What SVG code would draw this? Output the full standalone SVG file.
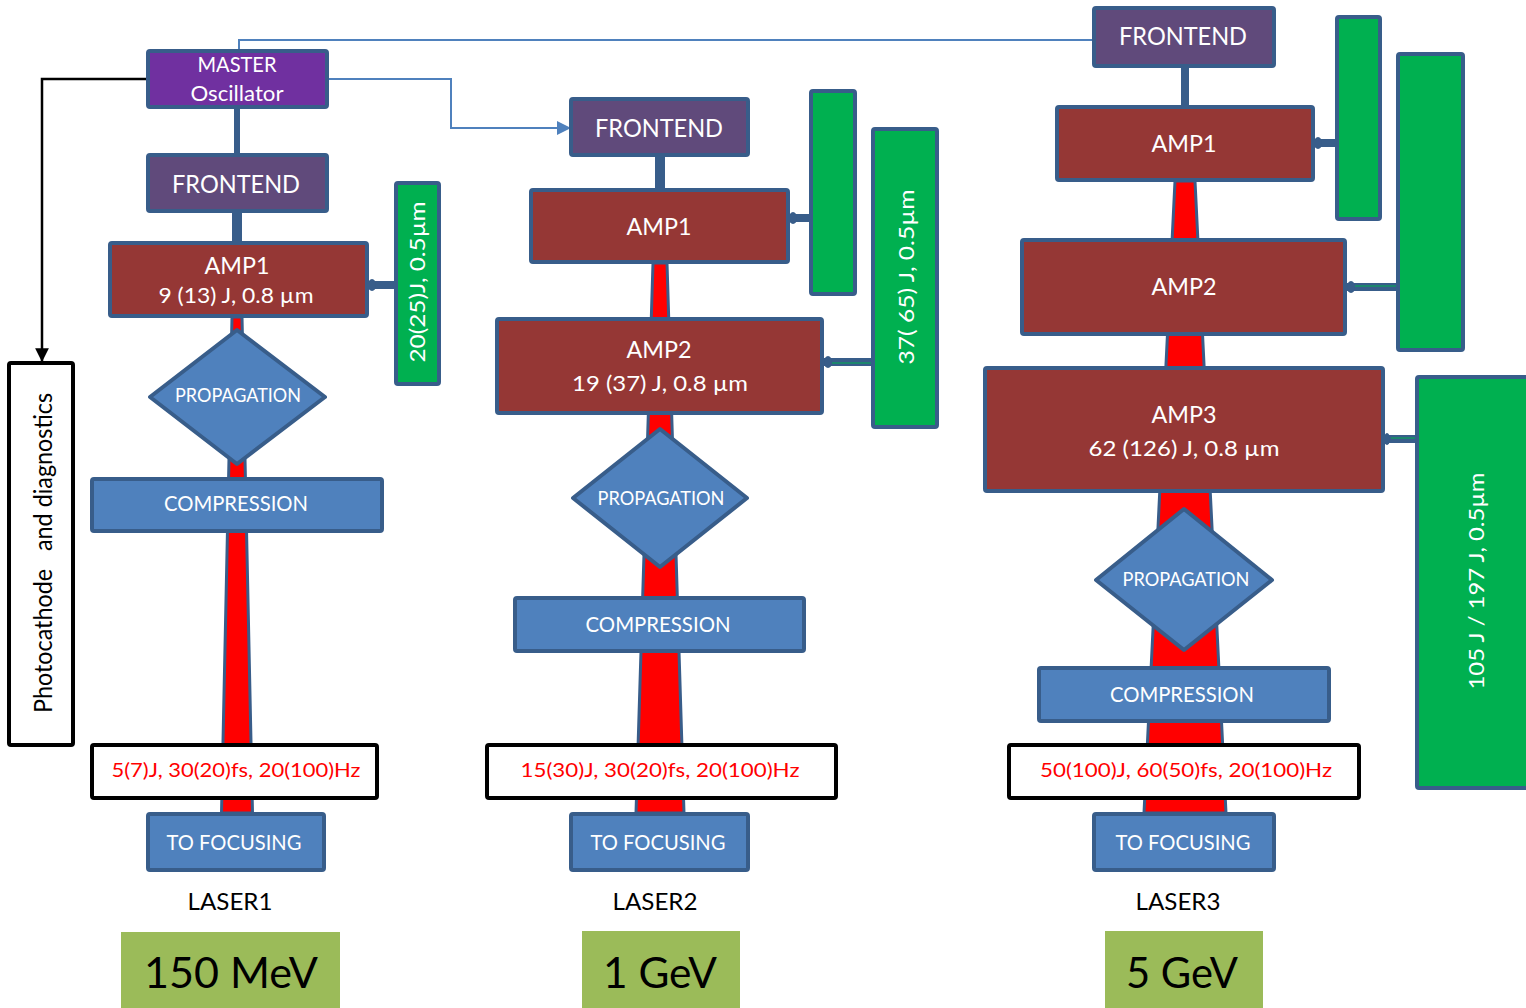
<svg xmlns="http://www.w3.org/2000/svg" width="1526" height="1008" viewBox="0 0 1526 1008">
<style>
text{font-family:Lato,"Liberation Sans",sans-serif;text-anchor:middle}
.box{stroke:#385D8A;stroke-width:4}
.master{fill:#7030A0}
.front{fill:#604A7B}
.amp{fill:#953735}
.green{fill:#00B050}
.blue{fill:#4F81BD}
.out{fill:#fff;stroke:#000;stroke-width:4}
.beam{fill:#FF0000;stroke:#385D8A;stroke-width:3;stroke-linejoin:round}
.bar{fill:#385D8A}
.w{fill:#fff}
.r{fill:#FF0000}
.k{fill:#000}
.thin{fill:none;stroke:#4F81BD;stroke-width:2}
.blk{fill:none;stroke:#000;stroke-width:2.5}
.gl{stroke:#00B050;stroke-width:1}
</style>
<defs>
<marker id="arrB" viewBox="0 0 10 10" refX="10" refY="5" markerWidth="7" markerHeight="7" markerUnits="strokeWidth" orient="auto"><path d="M0,0 L10,5 L0,10 z" fill="#4F81BD"/></marker>
<marker id="arrK" viewBox="0 0 10 10" refX="10" refY="5" markerWidth="5.5" markerHeight="5.5" markerUnits="strokeWidth" orient="auto"><path d="M0,0 L10,5 L0,10 z" fill="#000"/></marker>
</defs>
<rect width="1526" height="1008" fill="#fff"/>

<g id="connectors">
  <path class="thin" d="M239,51 V40 H1094"/>
  <path class="thin" d="M328,79 H451 V128 H571" marker-end="url(#arrB)"/>
  <path class="blk" d="M147,79 H42 V362" marker-end="url(#arrK)"/>
  <polygon class="beam" points="232,317 242,317 252.5,813 221.5,813"/>
  <polygon class="beam" points="653,263 667,263 684,813 636,813"/>
  <polygon class="beam" points="1175,181 1195,181 1226,813 1144,813"/>
  <rect class="bar" x="234" y="108" width="6" height="47"/>
  <rect class="bar" x="232" y="212" width="10" height="31"/>
  <rect class="bar" x="655" y="156" width="10" height="34"/>
  <rect class="bar" x="1181" y="66" width="8" height="41"/>
  <rect class="bar" x="368" y="281" width="27" height="8"/><ellipse class="bar" cx="372" cy="285" rx="4" ry="6"/>
  <rect class="bar" x="789" y="214" width="22" height="8"/><ellipse class="bar" cx="793" cy="218" rx="4" ry="6"/>
  <rect class="bar" x="823" y="358" width="50" height="8"/><ellipse class="bar" cx="828" cy="362" rx="4" ry="6"/><line class="gl" x1="832" y1="363" x2="872" y2="363"/>
  <rect class="bar" x="1314" y="139" width="22" height="8"/><ellipse class="bar" cx="1318" cy="143" rx="4" ry="6"/>
  <rect class="bar" x="1346" y="283" width="52" height="8"/><ellipse class="bar" cx="1351" cy="287" rx="4" ry="6"/><line class="gl" x1="1355" y1="286" x2="1397" y2="286"/>
  <rect class="bar" x="1383" y="435" width="34" height="8"/><ellipse class="bar" cx="1387" cy="439" rx="3" ry="6"/><line class="gl" x1="1391" y1="438" x2="1416" y2="438"/>
</g>

<g id="master"><rect class="box master" x="148" y="51" width="179" height="56" rx="2"/>
<text class="w" x="237" y="72" font-size="21" textLength="79" lengthAdjust="spacingAndGlyphs">MASTER</text>
<text class="w" x="237" y="101" font-size="21" textLength="93" lengthAdjust="spacingAndGlyphs">Oscillator</text></g>

<g id="photocathode"><rect x="9" y="363" width="64" height="382" fill="#fff" stroke="#000" stroke-width="4" rx="2"/>
<text class="k" transform="translate(52,553) rotate(-90)" font-size="25" textLength="320" lengthAdjust="spacingAndGlyphs" xml:space="preserve">Photocathode   and diagnostics</text></g>

<!-- LASER 1 -->
<g id="l1-frontend"><rect class="box front" x="148" y="155" width="179" height="56" rx="2"/>
<text class="w" x="236" y="193" font-size="25" textLength="128" lengthAdjust="spacingAndGlyphs">FRONTEND</text></g>
<g id="l1-amp1"><rect class="box amp" x="110" y="243" width="257" height="73" rx="2"/>
<text class="w" x="237" y="274" font-size="23" textLength="65" lengthAdjust="spacingAndGlyphs">AMP1</text>
<text class="w" x="236" y="303" font-size="22" textLength="155" lengthAdjust="spacingAndGlyphs">9 (13) J, 0.8 µm</text></g>
<g id="l1-pump"><rect class="box green" x="396" y="183" width="43" height="201" rx="2"/>
<text class="w" transform="translate(417,282) rotate(-90)" y="8" font-size="22" textLength="161" lengthAdjust="spacingAndGlyphs">20(25)J, 0.5µm</text></g>
<g id="l1-prop"><polygon class="box blue" points="237,330 325,397 237,464 150,397" stroke-linejoin="round"/>
<text class="w" x="238" y="402" font-size="18.5" textLength="126" lengthAdjust="spacingAndGlyphs">PROPAGATION</text></g>
<g id="l1-comp"><rect class="box blue" x="92" y="479" width="290" height="52" rx="2"/>
<text class="w" x="236" y="511" font-size="20.5" textLength="144" lengthAdjust="spacingAndGlyphs">COMPRESSION</text></g>
<g id="l1-out"><rect class="out" x="92" y="745" width="285" height="53" rx="2"/>
<text class="r" x="236" y="777" font-size="19.5" textLength="249" lengthAdjust="spacingAndGlyphs">5(7)J, 30(20)fs, 20(100)Hz</text></g>
<g id="l1-focus"><rect class="box blue" x="148" y="814" width="176" height="56" rx="2"/>
<text class="w" x="234" y="850" font-size="21" textLength="135" lengthAdjust="spacingAndGlyphs">TO FOCUSING</text></g>
<g id="l1-label"><text class="k" x="230" y="910" font-size="24" textLength="85" lengthAdjust="spacingAndGlyphs">LASER1</text></g>
<g id="l1-energy"><rect x="121" y="932" width="219" height="80" fill="#9BBB59"/>
<text class="k" x="231" y="988" font-size="42" textLength="174" lengthAdjust="spacingAndGlyphs">150 MeV</text></g>

<!-- LASER 2 -->
<g id="l2-frontend"><rect class="box front" x="571" y="99" width="177" height="56" rx="2"/>
<text class="w" x="659" y="137" font-size="25" textLength="128" lengthAdjust="spacingAndGlyphs">FRONTEND</text></g>
<g id="l2-amp1"><rect class="box amp" x="531" y="190" width="257" height="72" rx="2"/>
<text class="w" x="659" y="235" font-size="23" textLength="65" lengthAdjust="spacingAndGlyphs">AMP1</text></g>
<g id="l2-pump1"><rect class="box green" x="811" y="91" width="44" height="203" rx="2"/></g>
<g id="l2-pump2"><rect class="box green" x="873" y="129" width="64" height="298" rx="2"/>
<text class="w" transform="translate(906,277) rotate(-90)" y="8" font-size="22" textLength="175" lengthAdjust="spacingAndGlyphs">37( 65) J, 0.5µm</text></g>
<g id="l2-amp2"><rect class="box amp" x="497" y="319" width="325" height="94" rx="2"/>
<text class="w" x="659" y="358" font-size="23" textLength="65" lengthAdjust="spacingAndGlyphs">AMP2</text>
<text class="w" x="660" y="391" font-size="22" textLength="176" lengthAdjust="spacingAndGlyphs">19 (37) J, 0.8 µm</text></g>
<g id="l2-prop"><polygon class="box blue" points="660,429 747,498 660,567 573,498" stroke-linejoin="round"/>
<text class="w" x="661" y="505" font-size="18.5" textLength="127" lengthAdjust="spacingAndGlyphs">PROPAGATION</text></g>
<g id="l2-comp"><rect class="box blue" x="515" y="598" width="289" height="53" rx="2"/>
<text class="w" x="658" y="632" font-size="20.5" textLength="145" lengthAdjust="spacingAndGlyphs">COMPRESSION</text></g>
<g id="l2-out"><rect class="out" x="487" y="745" width="349" height="53" rx="2"/>
<text class="r" x="660" y="777" font-size="19.5" textLength="279" lengthAdjust="spacingAndGlyphs">15(30)J, 30(20)fs, 20(100)Hz</text></g>
<g id="l2-focus"><rect class="box blue" x="571" y="814" width="177" height="56" rx="2"/>
<text class="w" x="658" y="850" font-size="21" textLength="135" lengthAdjust="spacingAndGlyphs">TO FOCUSING</text></g>
<g id="l2-label"><text class="k" x="655" y="910" font-size="24" textLength="85" lengthAdjust="spacingAndGlyphs">LASER2</text></g>
<g id="l2-energy"><rect x="582" y="931" width="158" height="80" fill="#9BBB59"/>
<text class="k" x="660" y="988" font-size="42" textLength="114" lengthAdjust="spacingAndGlyphs">1 GeV</text></g>

<!-- LASER 3 -->
<g id="l3-frontend"><rect class="box front" x="1094" y="8" width="180" height="58" rx="2"/>
<text class="w" x="1183" y="45" font-size="25" textLength="128" lengthAdjust="spacingAndGlyphs">FRONTEND</text></g>
<g id="l3-amp1"><rect class="box amp" x="1057" y="107" width="256" height="73" rx="2"/>
<text class="w" x="1184" y="152" font-size="23" textLength="65" lengthAdjust="spacingAndGlyphs">AMP1</text></g>
<g id="l3-pump1"><rect class="box green" x="1337" y="17" width="43" height="202" rx="2"/></g>
<g id="l3-pump2"><rect class="box green" x="1398" y="54" width="65" height="296" rx="2"/></g>
<g id="l3-amp2"><rect class="box amp" x="1022" y="240" width="323" height="94" rx="2"/>
<text class="w" x="1184" y="295" font-size="23" textLength="65" lengthAdjust="spacingAndGlyphs">AMP2</text></g>
<g id="l3-amp3"><rect class="box amp" x="985" y="368" width="398" height="123" rx="2"/>
<text class="w" x="1184" y="423" font-size="23" textLength="65" lengthAdjust="spacingAndGlyphs">AMP3</text>
<text class="w" x="1184" y="456" font-size="22" textLength="191" lengthAdjust="spacingAndGlyphs">62 (126) J, 0.8 µm</text></g>
<g id="l3-pump3"><rect class="box green" x="1417" y="377" width="130" height="411" rx="2"/>
<text class="w" transform="translate(1476,581) rotate(-90)" y="8" font-size="22" textLength="217" lengthAdjust="spacingAndGlyphs">105 J / 197 J, 0.5µm</text></g>
<g id="l3-prop"><polygon class="box blue" points="1184,509 1272,580 1184,650 1096,580" stroke-linejoin="round"/>
<text class="w" x="1186" y="586" font-size="18.5" textLength="127" lengthAdjust="spacingAndGlyphs">PROPAGATION</text></g>
<g id="l3-comp"><rect class="box blue" x="1039" y="668" width="290" height="53" rx="2"/>
<text class="w" x="1182" y="702" font-size="20.5" textLength="144" lengthAdjust="spacingAndGlyphs">COMPRESSION</text></g>
<g id="l3-out"><rect class="out" x="1009" y="745" width="350" height="53" rx="2"/>
<text class="r" x="1186" y="777" font-size="19.5" textLength="292" lengthAdjust="spacingAndGlyphs">50(100)J, 60(50)fs, 20(100)Hz</text></g>
<g id="l3-focus"><rect class="box blue" x="1094" y="814" width="180" height="56" rx="2"/>
<text class="w" x="1183" y="850" font-size="21" textLength="135" lengthAdjust="spacingAndGlyphs">TO FOCUSING</text></g>
<g id="l3-label"><text class="k" x="1178" y="910" font-size="24" textLength="85" lengthAdjust="spacingAndGlyphs">LASER3</text></g>
<g id="l3-energy"><rect x="1105" y="931" width="158" height="80" fill="#9BBB59"/>
<text class="k" x="1182" y="988" font-size="42" textLength="112" lengthAdjust="spacingAndGlyphs">5 GeV</text></g>
</svg>
